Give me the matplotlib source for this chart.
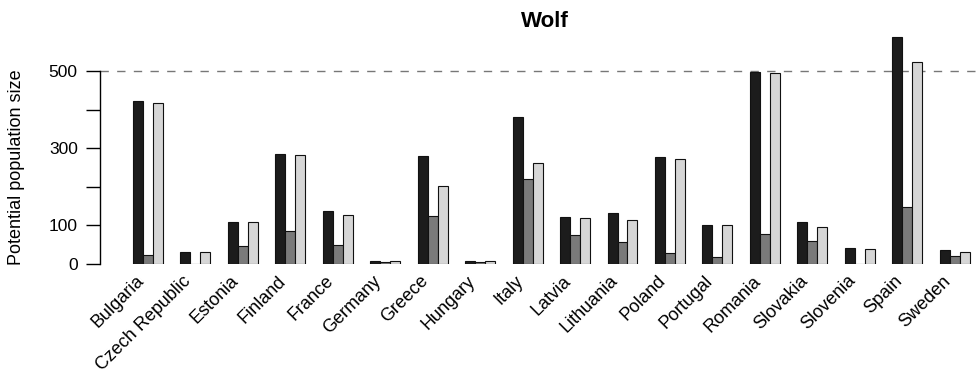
import numpy as np
import matplotlib
matplotlib.use("Agg")
import matplotlib.pyplot as plt
import matplotlib.transforms as mtransforms

countries = ["Bulgaria", "Czech Republic", "Estonia", "Finland", "France", "Germany",
             "Greece", "Hungary", "Italy", "Latvia", "Lithuania", "Poland", "Portugal",
             "Romania", "Slovakia", "Slovenia", "Spain", "Sweden"]
# three estimates per country
black_vals = [422, 32, 110, 284, 137, 9, 281, 8, 381, 123, 131, 278, 101, 498, 108, 41, 587, 35]
dark_vals = [23, 0, 47, 85, 50, 5, 125, 4, 219, 75, 56, 29, 17, 79, 60, 0, 147, 22]
light_vals = [418, 32, 110, 283, 128, 9, 201, 8, 262, 120, 113, 273, 101, 496, 97, 40, 524, 31]
yticks = [0, 100, 200, 300, 400, 500]
ytick_labels = ["0", "100", "", "300", "", "500"]

plt.rcParams["font.family"] = ["Liberation Sans", "DejaVu Sans"]

fig = plt.figure(figsize=(9.77, 3.78), dpi=100)
ax = fig.add_axes([100 / 977, 114 / 378, 877 / 977, 231.6 / 378])

x = np.arange(len(countries))
w = 0.21
ax.bar(x - w, black_vals, w, color="#1c1c1c", edgecolor="#111111", linewidth=0.8)
ax.bar(x, dark_vals, w, color="#7a7a7a", edgecolor="#111111", linewidth=0.8)
ax.bar(x + w, light_vals, w, color="#d6d6d6", edgecolor="#111111", linewidth=0.8)

ax.axhline(500, color="#777777", linestyle=(0, (6, 6)), linewidth=1, zorder=0)

ax.set_xlim(-1.01, 17.47)
ax.set_ylim(0, 600)

for s in ["top", "right", "bottom"]:
    ax.spines[s].set_visible(False)
ax.spines["left"].set_bounds(0, 500)
ax.spines["left"].set_linewidth(1)

ax.set_yticks(yticks)
ax.set_yticklabels(ytick_labels, fontsize=12.5)
ax.tick_params(axis="y", length=10, width=1, pad=6)
ax.set_xticks(x)
ax.set_xticklabels(countries, rotation=45, ha="right", rotation_mode="anchor", fontsize=13)
ax.tick_params(axis="x", length=0, pad=6)
shift = mtransforms.ScaledTranslation(-13 / 100, 0, fig.dpi_scale_trans)
for lab in ax.get_xticklabels():
    lab.set_transform(lab.get_transform() + shift)

ax.set_ylabel("Potential population size", fontsize=13)
ax.yaxis.set_label_coords(-75 / 877, 250 / 600)
ax.set_title("Wolf", fontsize=16, fontweight="bold", pad=4, x=0.507)

fig.savefig("out.png", dpi=100)
